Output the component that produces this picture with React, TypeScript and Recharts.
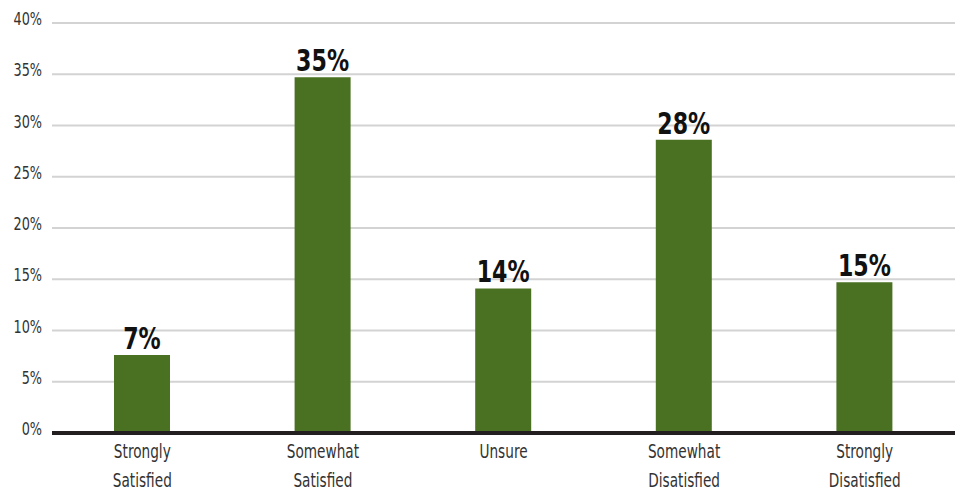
import React from "react";
import { BarChart, Bar, XAxis, YAxis, CartesianGrid, LabelList } from "recharts";

const categories = ["Strongly|Satisfied", "Somewhat|Satisfied", "Unsure", "Somewhat|Disatisfied", "Strongly|Disatisfied"];
const values = [7.6, 34.7, 14.1, 28.6, 14.7];
const valueLabels = ["7%", "35%", "14%", "28%", "15%"];
const yTicks = [0, 5, 10, 15, 20, 25, 30, 35, 40];

const data = categories.map((c, i) => ({ name: c, value: values[i], label: valueLabels[i] }));

const FONT = "'DejaVu Sans Condensed', 'DejaVu Sans', sans-serif";

const CatTick = (props: any) => {
  const { x, y, payload } = props;
  const lines = String(payload.value).split("|");
  return (
    <g transform={`translate(${x},${y}) scale(0.76,1)`}>
      <text x={0} y={0} textAnchor="middle" fill="#333" fontFamily={FONT} fontSize={20}>
        {lines.map((l, i) => (
          <tspan key={i} x={0} dy={i === 0 ? 17 : 29}>{l}</tspan>
        ))}
      </text>
    </g>
  );
};

const YTick = (props: any) => {
  const { x, y, payload } = props;
  return (
    <g transform={`translate(${x},${y}) scale(0.84,1)`}>
      <text x={0} y={2} textAnchor="end" fill="#333" fontFamily={FONT} fontSize={17}>
        {`${payload.value}%`}
      </text>
    </g>
  );
};

const BarLabel = (props: any) => {
  const { x, y, width, value } = props;
  const cx = Number(x) + Number(width) / 2;
  return (
    <g transform={`translate(${cx},${Number(y) - 6}) scale(0.82,1)`}>
      <text x={0} y={0} textAnchor="middle" fill="#111" fontFamily={FONT} fontSize={30} fontWeight="bold">
        {value}
      </text>
    </g>
  );
};

export default function App() {
  return (
    <div style={{ position: "absolute", left: 0, top: 0, background: "#fff" }}>
      <BarChart width={964} height={496} data={data} margin={{ top: 23, right: 9, bottom: 0, left: 0 }}>
        <CartesianGrid vertical={false} stroke="#d3d3d3" strokeWidth={2} />
        <YAxis
          domain={[0, 40]}
          ticks={yTicks}
          width={52}
          axisLine={false}
          tickLine={false}
          tickSize={0}
          tickMargin={10}
          interval={0}
          tick={<YTick />}
        />
        <XAxis
          dataKey="name"
          height={63}
          axisLine={{ stroke: "#231f20", strokeWidth: 4 }}
          tickLine={false}
          interval={0}
          tick={<CatTick />}
        />
        <Bar dataKey="value" fill="#4a7021" barSize={56} isAnimationActive={false}>
          <LabelList dataKey="label" content={<BarLabel />} />
        </Bar>
      </BarChart>
    </div>
  );
}
